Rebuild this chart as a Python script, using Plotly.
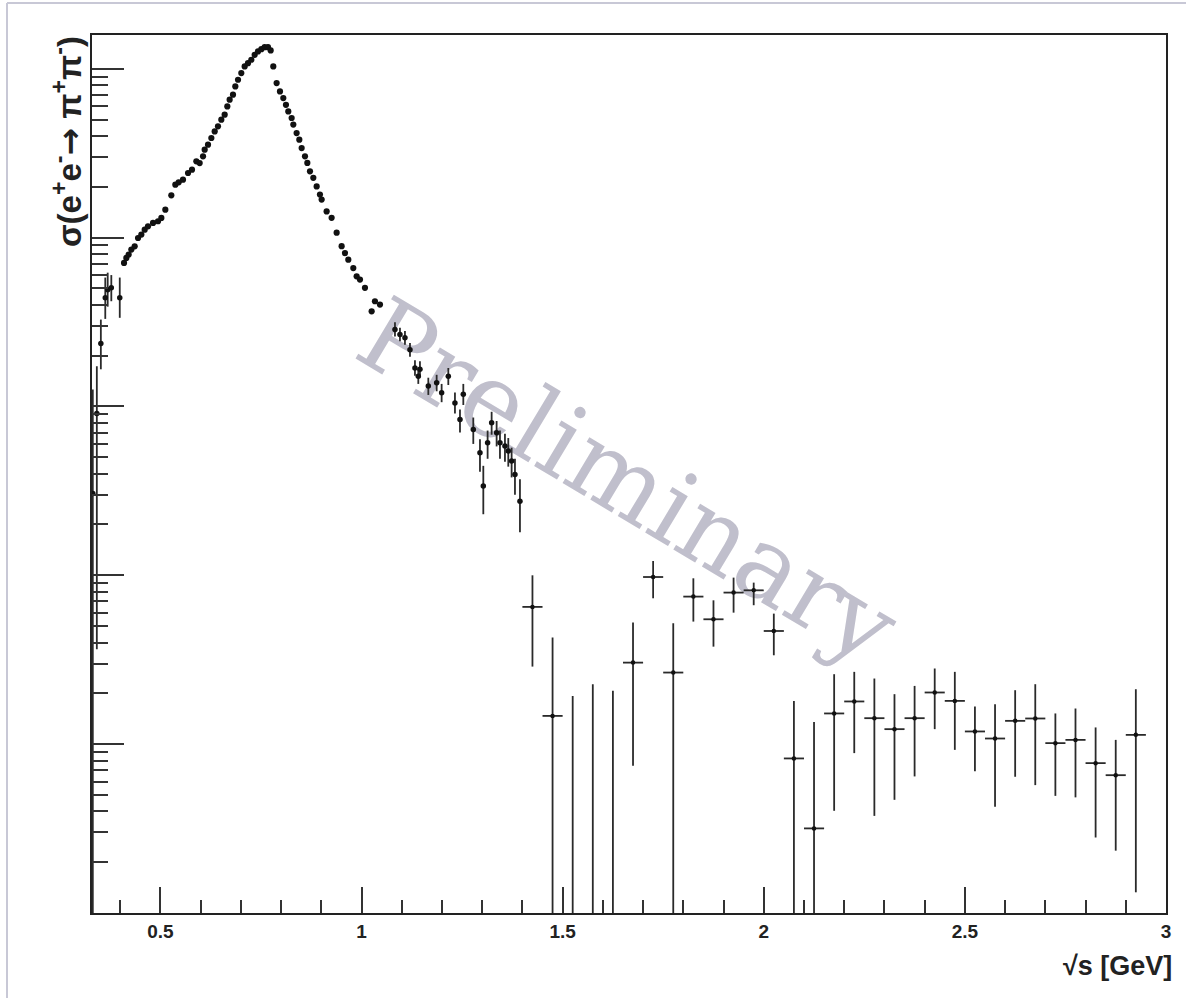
import plotly.graph_objects as go

# ---------------- data ----------------
# fine energy scan, points with negligible errors
scan_x = [0.4096, 0.4154, 0.4212, 0.4278, 0.4361, 0.4444, 0.4527, 0.4610, 0.4692, 0.4817,
          0.4941, 0.5024, 0.5123, 0.5272, 0.5372, 0.5455, 0.5562, 0.5687, 0.5786, 0.5894,
          0.5977, 0.6060, 0.6101, 0.6184, 0.6267, 0.6350, 0.6432, 0.6515, 0.6598, 0.6664,
          0.6722, 0.6805, 0.6863, 0.6930, 0.7012, 0.7095, 0.7178, 0.7261, 0.7344, 0.7427,
          0.7510, 0.7592, 0.7675, 0.7742, 0.7807, 0.7890, 0.7973, 0.8056, 0.8122, 0.8180,
          0.8263, 0.8305, 0.8387, 0.8454, 0.8512, 0.8595, 0.8653, 0.8719, 0.8802, 0.8885,
          0.8967, 0.9009, 0.9133, 0.9257, 0.9382, 0.9506, 0.9589, 0.9672, 0.9796, 0.9879,
          0.9962, 1.0086, 1.0252, 1.0334, 1.0459]
scan_y = [70.8, 75.8, 79.3, 84.9, 88.8, 99.5, 104.2, 111.5, 116.7, 122.2,
          125.0, 130.8, 146.4, 178.1, 205.9, 212.5, 220.4, 241.3, 252.5, 282.9,
          276.5, 302.9, 331.7, 355.1, 388.9, 425.8, 456.0, 499.3, 534.4, 598.6,
          655.7, 702.1, 786.3, 860.8, 942.8, 1032, 1080, 1131, 1210, 1267,
          1307, 1343, 1343, 1284, 1032, 823, 734, 671, 612, 559,
          511, 467, 416, 380, 339, 303, 277, 247, 226, 201,
          180, 168, 143, 131, 107, 89, 81, 74, 66, 59,
          56.4, 50.4, 36.6, 42.0, 40.1]

# scan points with visible error bars (upper / lower limits)
scan_err_x = [0.332, 0.342, 0.352, 0.363, 0.369, 0.378, 0.399,
              1.0832, 1.0956, 1.108, 1.1205, 1.1329, 1.1412, 1.1453, 1.1661, 1.1868,
              1.1992, 1.2158, 1.2323, 1.2448, 1.2531, 1.2779, 1.2945, 1.3028, 1.3135,
              1.3235, 1.3359, 1.3442, 1.3566, 1.3649, 1.3732, 1.3815, 1.3939]
scan_err_y = [3.05, 9.1, 23.6, 44.0, 49.2, 50.4, 44.0,
              28.6, 26.7, 25.5, 21.7, 16.9, 15.1, 16.6, 13.2, 13.8,
              12.05, 15.1, 10.5, 8.38, 11.8, 7.31, 5.32, 3.38, 6.1,
              8.0, 6.99, 6.1, 5.83, 5.44, 4.75, 3.96, 2.75]
scan_err_hi = [12.6, 17.3, 32.7, 58, 62, 60, 58,
               31.5, 29.3, 28.0, 23.8, 18.8, 16.8, 18.5, 14.8, 15.4,
               13.6, 16.9, 12.1, 9.6, 13.6, 8.6, 6.4, 4.45, 7.2,
               9.3, 8.2, 7.2, 6.9, 6.5, 5.7, 4.9, 3.7]
scan_err_lo = [0.0, 0.365, 16.6, 33, 39, 42, 33.5,
               26.0, 24.3, 23.2, 19.7, 15.2, 13.6, 14.9, 11.7, 12.3,
               10.6, 13.4, 9.1, 7.0, 10.2, 6.0, 4.1, 2.3, 4.9,
               6.8, 5.8, 4.9, 4.7, 4.4, 3.8, 3.0, 1.8]

# 50 MeV bins above 1.4 GeV
bin_x = [1.425, 1.475, 1.525, 1.575, 1.625, 1.675, 1.725, 1.775, 1.825, 1.875,
         1.925, 1.975, 2.025, 2.075, 2.125, 2.175, 2.225, 2.275, 2.325, 2.375,
         2.425, 2.475, 2.525, 2.575, 2.625, 2.675, 2.725, 2.775, 2.825, 2.875, 2.925]
bin_y = [0.65, 0.147, 0.004, 0.004, 0.004, 0.304, 0.977, 0.2655, 0.748, 0.549,
         0.790, 0.815, 0.468, 0.0823, 0.0317, 0.152, 0.179, 0.1425, 0.1227, 0.1425,
         0.2023, 0.1804, 0.1189, 0.108, 0.1374, 0.1419, 0.1014, 0.106, 0.0772, 0.0655, 0.1135]
bin_hi = [1.0, 0.428, 0.193, 0.226, 0.207, 0.525, 1.216, 0.52, 0.96, 0.711,
          0.969, 0.905, 0.593, 0.180, 0.1355, 0.2596, 0.268, 0.2447, 0.1977, 0.2213,
          0.2806, 0.268, 0.167, 0.1724, 0.2087, 0.2265, 0.152, 0.1626, 0.1256, 0.106, 0.2115]
bin_lo = [0.288, 0.0, 0.0, 0.0, 0.0, 0.0745, 0.731, 0.0, 0.532, 0.378,
          0.601, 0.665, 0.336, 0.0, 0.0, 0.0403, 0.0885, 0.0376, 0.0468, 0.0644,
          0.1227, 0.0925, 0.069, 0.0426, 0.0641, 0.0572, 0.0494, 0.0484, 0.028, 0.0234, 0.01326]
bin_halfwidth = 0.025

x_tick_vals = [0.5, 1, 1.5, 2, 2.5, 3]
x_tick_text = ["0.5", "1", "1.5", "2", "2.5", "3"]
y_title = ("σ(e<sup>+</sup>e<sup>-</sup><span style='font-family:DejaVu Sans'>→</span>"
           " π<sup>+</sup>π<sup>-</sup>)")
x_title = "√s [GeV]"
watermark = "Preliminary"

# ---------------- figure ----------------
INK = "#111111"
BAR = "#2a2a2a"

fig = go.Figure()

fig.add_trace(go.Scatter(
    x=scan_err_x, y=scan_err_y, mode="markers",
    marker=dict(color=INK, size=5.5),
    error_y=dict(type="data", symmetric=False,
                 array=[h - v for h, v in zip(scan_err_hi, scan_err_y)],
                 arrayminus=[v - l for v, l in zip(scan_err_y, scan_err_lo)],
                 color=BAR, thickness=1.8, width=0),
    showlegend=False))

fig.add_trace(go.Scatter(
    x=scan_x, y=scan_y, mode="markers",
    marker=dict(color=INK, size=6.2),
    showlegend=False))

fig.add_trace(go.Scatter(
    x=bin_x, y=bin_y, mode="markers",
    marker=dict(color=INK, size=4.5),
    error_y=dict(type="data", symmetric=False,
                 array=[h - v for h, v in zip(bin_hi, bin_y)],
                 arrayminus=[v - l for v, l in zip(bin_y, bin_lo)],
                 color=BAR, thickness=1.8, width=0),
    error_x=dict(type="constant", value=bin_halfwidth, color=BAR, thickness=1.8, width=0),
    showlegend=False))

minor_y = [k * 10.0 ** d for d in range(-2, 4) for k in range(2, 10)]

fig.update_xaxes(
    range=[0.330, 3.0], showgrid=False, zeroline=False,
    showline=True, linecolor="#222222", linewidth=2, mirror=True,
    ticks="inside", ticklen=26, tickwidth=1.5, tickcolor="#333333",
    tickmode="array", tickvals=x_tick_vals, ticktext=x_tick_text,
    tickfont=dict(family="Liberation Sans", size=19, color="#222222", weight="bold"),
    minor=dict(ticks="inside", dtick=0.1, tick0=0, ticklen=13, tickwidth=1.5,
               tickcolor="#333333", showgrid=False),
)
fig.update_yaxes(
    type="log", range=[-2, 3.2], showgrid=False, zeroline=False,
    showline=True, linecolor="#222222", linewidth=2, mirror=True,
    ticks="inside", ticklen=32, tickwidth=1.5, tickcolor="#333333",
    tickmode="array", tickvals=[0.01, 0.1, 1, 10, 100, 1000], showticklabels=False,
    minor=dict(ticks="inside", tickmode="array", tickvals=minor_y, ticklen=16,
               tickwidth=1.5, tickcolor="#333333", showgrid=False),
)

W, H = 1186, 998
L, R, T, B = 92, 20, 35, 85
pw, ph = W - L - R, H - T - B

def px(xp):
    return (xp - L) / pw

def py(yp):
    return (H - B - yp) / ph

fig.update_layout(
    width=W, height=H,
    margin=dict(l=L, r=R, t=T, b=B, pad=0),
    paper_bgcolor="white", plot_bgcolor="white",
    font=dict(family="Liberation Sans", color="#222222"),
    annotations=[
        dict(text=y_title, xref="paper", yref="paper", x=px(44), y=py(34),
             xanchor="left", yanchor="top", textangle=-90, showarrow=False,
             font=dict(family="Liberation Sans", size=33, color="#222222", weight="bold")),
        dict(text=x_title, xref="paper", yref="paper", x=px(1174), y=py(966),
             xanchor="right", yanchor="middle", showarrow=False,
             font=dict(family="Liberation Sans", size=27, color="#222222", weight="bold")),
    ],
    shapes=[
        dict(type="rect", xref="paper", yref="paper",
             x0=px(582), x1=px(682), y0=py(525), y1=py(425),
             line=dict(width=0), fillcolor="rgba(0,0,0,0)", layer="below",
             label=dict(text=watermark, textangle=31, textposition="middle center",
                        font=dict(family="DejaVu Serif", size=102, color="#c0bfcc"))),
        dict(type="line", xref="paper", yref="paper", x0=px(7), x1=px(7),
             y0=py(3), y1=py(1000), line=dict(color="#c8c8d6", width=2)),
        dict(type="line", xref="paper", yref="paper", x0=px(7), x1=px(1190),
             y0=py(3), y1=py(3), line=dict(color="#c8c8d6", width=2)),
    ],
)

fig.write_html("out.html")
